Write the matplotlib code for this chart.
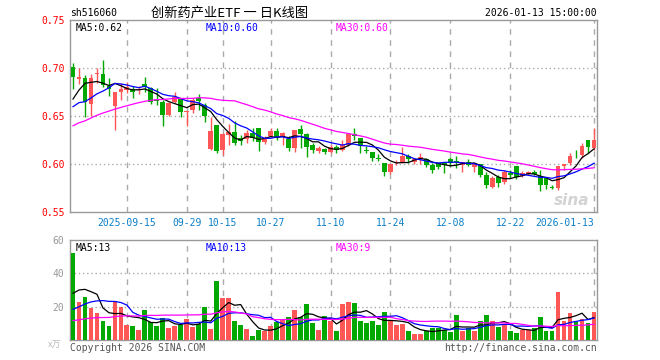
import matplotlib
matplotlib.use("Agg")
import matplotlib.pyplot as plt
import numpy as np
import pandas as pd

# ---- data ----
opens = [0.7014, 0.6882, 0.6896, 0.6625, 0.6940, 0.6938, 0.6813, 0.6607, 0.6753, 0.6771,
         0.6785, 0.6770, 0.6833, 0.6788, 0.6674, 0.6649, 0.6510, 0.6651, 0.6684, 0.6545,
         0.6563, 0.6684, 0.6615, 0.6156, 0.6406, 0.6146, 0.6302, 0.6337, 0.6268, 0.6257,
         0.6320, 0.6372, 0.6233, 0.6292, 0.6344, 0.6278, 0.6257, 0.6164, 0.6365, 0.6313,
         0.6198, 0.6139, 0.6153, 0.6128, 0.6174, 0.6146, 0.6198, 0.6313, 0.6268, 0.6143,
         0.6128, 0.6063, 0.6007, 0.5920, 0.6007, 0.6024, 0.6083, 0.6024, 0.6049, 0.6049,
         0.5990, 0.6007, 0.6007, 0.6049, 0.6028, 0.5990, 0.6024, 0.5965, 0.6000, 0.5885,
         0.5757, 0.5861, 0.5816, 0.5910, 0.5980, 0.5875, 0.5896, 0.5920, 0.5875, 0.5861,
         0.5757, 0.5747, 0.5975, 0.6014, 0.6097, 0.6097, 0.6250, 0.6166]
highs = [0.7055, 0.6997, 0.6927, 0.6938, 0.6997, 0.7083, 0.6893, 0.6753, 0.6840, 0.6851,
         0.6812, 0.6810, 0.6910, 0.6800, 0.6790, 0.6670, 0.6650, 0.6753, 0.6690, 0.6555,
         0.6684, 0.6729, 0.6632, 0.6493, 0.6406, 0.6320, 0.6417, 0.6448, 0.6302, 0.6358,
         0.6370, 0.6372, 0.6290, 0.6370, 0.6370, 0.6330, 0.6288, 0.6354, 0.6406, 0.6320,
         0.6215, 0.6188, 0.6163, 0.6200, 0.6200, 0.6250, 0.6313, 0.6372, 0.6268, 0.6188,
         0.6128, 0.6106, 0.6007, 0.6004, 0.6042, 0.6174, 0.6104, 0.6060, 0.6118, 0.6060,
         0.6014, 0.6024, 0.6024, 0.6076, 0.6083, 0.6024, 0.6049, 0.6007, 0.6000, 0.5917,
         0.5870, 0.5885, 0.5938, 0.5938, 0.5980, 0.5930, 0.5930, 0.5938, 0.5938, 0.5868,
         0.5781, 0.5979, 0.6000, 0.6111, 0.6146, 0.6215, 0.6250, 0.6372]
lows = [0.6778, 0.6830, 0.6493, 0.6500, 0.6840, 0.6805, 0.6708, 0.6354, 0.6667, 0.6736,
        0.6684, 0.6730, 0.6753, 0.6620, 0.6615, 0.6396, 0.6500, 0.6640, 0.6486, 0.6396,
        0.6528, 0.6563, 0.6440, 0.6146, 0.6118, 0.6094, 0.6198, 0.6198, 0.6198, 0.6222,
        0.6236, 0.6139, 0.6210, 0.6285, 0.6247, 0.6200, 0.6135, 0.6130, 0.6167, 0.6073,
        0.6115, 0.6115, 0.6104, 0.6110, 0.6110, 0.6135, 0.6190, 0.6250, 0.6115, 0.6115,
        0.6030, 0.6031, 0.5878, 0.5900, 0.5990, 0.6007, 0.6014, 0.6000, 0.6000, 0.5965,
        0.5910, 0.5948, 0.5910, 0.5979, 0.5955, 0.5920, 0.5979, 0.5917, 0.5865, 0.5747,
        0.5747, 0.5760, 0.5795, 0.5851, 0.5840, 0.5865, 0.5885, 0.5890, 0.5722, 0.5736,
        0.5736, 0.5730, 0.5938, 0.5990, 0.6060, 0.6063, 0.6118, 0.6146]
closes = [0.6909, 0.6903, 0.6643, 0.6896, 0.6945, 0.6823, 0.6778, 0.6753, 0.6778, 0.6799,
          0.6753, 0.6780, 0.6799, 0.6649, 0.6660, 0.6510, 0.6632, 0.6693, 0.6545, 0.6555,
          0.6667, 0.6660, 0.6503, 0.6347, 0.6139, 0.6313, 0.6337, 0.6215, 0.6243, 0.6326,
          0.6268, 0.6233, 0.6257, 0.6344, 0.6278, 0.6326, 0.6164, 0.6354, 0.6313, 0.6180,
          0.6146, 0.6163, 0.6128, 0.6180, 0.6146, 0.6198, 0.6313, 0.6292, 0.6188, 0.6136,
          0.6059, 0.6049, 0.5920, 0.6000, 0.6024, 0.6083, 0.6049, 0.6049, 0.6076, 0.5990,
          0.5938, 0.5972, 0.5990, 0.6014, 0.6021, 0.6024, 0.5990, 0.6007, 0.5885, 0.5781,
          0.5851, 0.5799, 0.5920, 0.5885, 0.5868, 0.5910, 0.5920, 0.5896, 0.5781, 0.5781,
          0.5750, 0.5979, 0.5997, 0.6083, 0.6090, 0.6188, 0.6180, 0.6250]
volumes = [52.4, 23.0, 26.0, 19.4, 16.4, 11.6, 8.4, 23.4, 20.0, 9.0,
           8.4, 6.2, 18.0, 11.0, 8.5, 13.2, 7.4, 8.4, 9.0, 12.6,
           8.0, 9.6, 19.8, 6.8, 35.4, 25.2, 25.2, 11.6, 9.0, 6.8,
           2.4, 6.2, 5.6, 8.4, 11.0, 11.8, 13.8, 18.0, 13.6, 21.6,
           10.2, 6.2, 14.6, 11.6, 5.4, 21.6, 22.8, 22.2, 11.4, 10.2,
           11.4, 9.0, 16.8, 11.4, 9.0, 9.6, 5.4, 3.6, 3.6, 5.4,
           7.4, 7.4, 6.0, 5.0, 15.2, 5.4, 7.4, 5.4, 11.6, 15.2,
           11.6, 7.8, 9.0, 5.4, 4.2, 6.0, 6.0, 7.2, 13.8, 5.4,
           5.4, 29.0, 11.4, 16.4, 10.8, 12.8, 10.2, 17.0]

# closes / volumes before the visible window (estimated from where the MA lines start)
prev_closes = [0.598, 0.603, 0.601, 0.609, 0.612, 0.618, 0.615, 0.622, 0.628, 0.625,
               0.632, 0.638, 0.635, 0.642, 0.648, 0.645, 0.652, 0.658, 0.655, 0.662,
               0.648, 0.655, 0.650, 0.652, 0.6535, 0.6438, 0.6293, 0.6841, 0.6904]
prev_volumes = [7, 9, 6, 8, 10, 7, 9, 8, 6, 11, 8, 7, 9, 10, 8, 7, 9, 8, 10, 7,
                8, 9, 7, 10, 10, 13, 24, 26.4, 24.2]

tick_pos = [9, 19, 25, 33, 43, 53, 63, 73, 87]
tick_labels = ["2025-09-15", "09-29", "10-15", "10-27", "11-10", "11-24", "12-08", "12-22", "2026-01-13"]

# ---- moving averages ----
n = len(closes)
all_c = pd.Series(prev_closes + closes)
all_v = pd.Series(prev_volumes + volumes)
k = len(prev_closes)
ma = {p: all_c.rolling(p).mean().values[k:] for p in (5, 10, 30)}
vma = {p: all_v.rolling(p).mean().values[k:] for p in (5, 10, 30)}

RED = "#ff5656"
GREEN = "#00a800"
ma_colors = {5: "black", 10: "#0000ff", 30: "#ff00ff"}
MONO = "DejaVu Sans Mono"
GRID = "#aaaaaa"

x = np.arange(n)
o = np.array(opens); h = np.array(highs); l = np.array(lows); c = np.array(closes)
up = c >= o
cols = [RED if u else GREEN for u in up]

fig = plt.figure(figsize=(6.6, 3.6), dpi=100)
ax = fig.add_axes([70 / 660, 1 - 212 / 360, 527 / 660, 192 / 360])
vax = fig.add_axes([70 / 660, 1 - 340 / 360, 527 / 660, 100 / 360])

# frames and vertical date grid for both panels
for a in (ax, vax):
    a.set_xlim(-0.5, n - 0.5)
    for s in a.spines.values():
        s.set_color("#999999")
        s.set_linewidth(1)
    for t in tick_pos:
        a.axvline(t, color=GRID, lw=1, ls=(0, (4, 4)), zorder=0)

# main candle chart
ax.set_ylim(0.55, 0.75)
for yv in (0.60, 0.65, 0.70):
    ax.axhline(yv, color=GRID, lw=1, ls=(0, (1, 2)), zorder=0)

ax.vlines(x, l, h, colors=cols, lw=1, zorder=2)
body_bottom = np.minimum(o, c)
body_h = np.maximum(np.abs(c - o), 0.0006)
ax.bar(x, body_h, bottom=body_bottom, width=0.8, color=cols, zorder=3)

for p in (5, 10, 30):
    ax.plot(x, ma[p], color=ma_colors[p], lw=0.9, zorder=4)

ax.set_yticks([0.55, 0.60, 0.65, 0.70, 0.75])
ax.set_yticklabels(["0.55", "0.60", "0.65", "0.70", "0.75"], color="red",
                   fontsize=7, family=MONO)
ax.set_xticks(tick_pos)
ax.set_xticklabels(tick_labels, color="#0a7fc8", fontsize=7, family=MONO)
ax.get_xticklabels()[-1].set_ha("right")
ax.tick_params(length=0, pad=4)

ax.text(0.01, 0.985, "MA5:%.2f" % ma[5][-1], transform=ax.transAxes, va="top",
        fontsize=7, family=MONO, color="black")
ax.text(0.257, 0.985, "MA10:%.2f" % ma[10][-1], transform=ax.transAxes, va="top",
        fontsize=7, family=MONO, color="#0000ff")
ax.text(0.504, 0.985, "MA30:%.2f" % ma[30][-1], transform=ax.transAxes, va="top",
        fontsize=7, family=MONO, color="#ff00ff")
ax.text(0.985, 0.02, "sina", transform=ax.transAxes, ha="right", va="bottom",
        fontsize=11, fontweight="bold", style="italic", color="#c8c8c8", alpha=0.8)

# volume chart
vax.set_ylim(0, 60)
for yv in (20, 40):
    vax.axhline(yv, color=GRID, lw=1, ls=(0, (1, 2)), zorder=0)
vax.bar(x, volumes, width=0.8, color=cols, zorder=3)
for p in (5, 10, 30):
    vax.plot(x, vma[p], color=ma_colors[p], lw=0.9, zorder=4)
vax.set_yticks([20, 40, 60])
vax.set_yticklabels(["20", "40", "60"], color="#999999", fontsize=7, family=MONO)
vax.set_xticks([])
vax.tick_params(length=0, pad=4)

vax.text(0.01, 0.97, "MA5:%d" % round(vma[5][-1]), transform=vax.transAxes, va="top",
         fontsize=7, family=MONO, color="black")
vax.text(0.257, 0.97, "MA10:%d" % round(vma[10][-1]), transform=vax.transAxes, va="top",
         fontsize=7, family=MONO, color="#0000ff")
vax.text(0.504, 0.97, "MA30:%d" % round(vma[30][-1]), transform=vax.transAxes, va="top",
         fontsize=7, family=MONO, color="#ff00ff")

# titles and footer
fig.text(70 / 660, 1 - 13 / 360, "sh516060", fontsize=7, family=MONO, va="center")
fig.text(230 / 660, 1 - 13 / 360, "创新药产业ETF 一 日K线图", fontsize=9.5,
         family=["Noto Sans CJK SC", MONO], va="center", ha="center")
fig.text(597 / 660, 1 - 13 / 360, "2026-01-13 15:00:00", fontsize=7, family=MONO,
         va="center", ha="right")
fig.text(48 / 660, 1 - 345 / 360, "x万", fontsize=6.5, family=["Noto Sans CJK SC", MONO],
         va="center", color="#bbbbbb")
fig.text(70 / 660, 1 - 348 / 360, "Copyright 2026 SINA.COM", fontsize=7, family=MONO,
         va="center", color="#555555")
fig.text(597 / 660, 1 - 348 / 360, "http://finance.sina.com.cn", fontsize=7, family=MONO,
         va="center", ha="right", color="#555555")

fig.savefig("out.png", dpi=100)
